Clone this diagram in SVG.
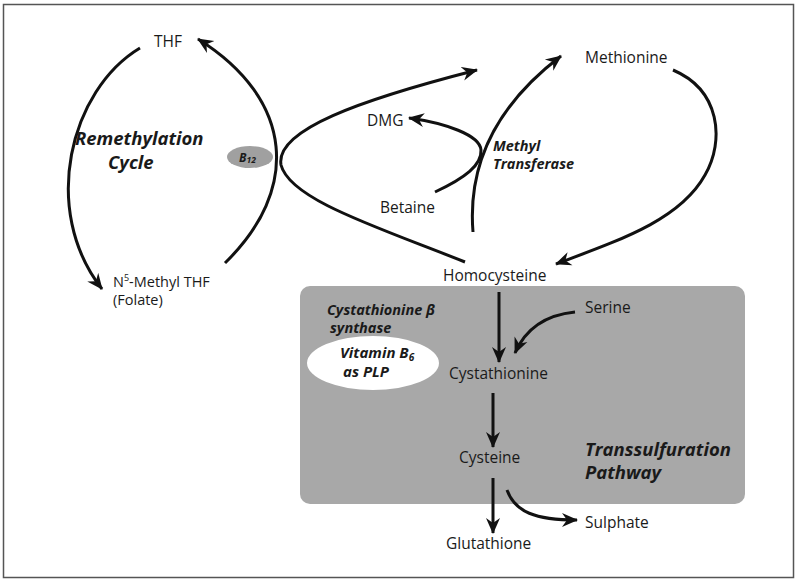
<svg xmlns="http://www.w3.org/2000/svg" width="800" height="585" viewBox="0 0 800 585">
<defs>
<marker id="ah" markerUnits="userSpaceOnUse" markerWidth="18" markerHeight="16" refX="15" refY="8" orient="auto">
<path d="M0,1 L16,8 L0,15 L5,8 z" fill="#111"/>
</marker>
</defs>
<style>
text{font-family:"Open Sans","Liberation Sans",sans-serif;fill:#1a1a1a;font-size:15.5px}
.b{font-weight:bold;font-style:italic;font-size:15px}
.b2{font-size:14.5px}
.big{font-size:18.5px}
.sm{font-size:14.5px}
.c{fill:none;stroke:#111;stroke-width:3;stroke-linecap:butt}
.a{marker-end:url(#ah)}
</style>
<rect x="3.5" y="4.5" width="790" height="573" fill="#fff" stroke="#555" stroke-width="1.5"/>
<g id="transsulfuration-box">
<rect x="300" y="286" width="445" height="218" rx="10" fill="#a8a8a8"/>
<text class="b big" x="585" y="456">Transsulfuration</text>
<text class="b big" x="585" y="479">Pathway</text>
</g>
<g id="connectors">
<path class="c a" d="M140,48 C70,90 40,210 102,289"/>
<path class="c a" d="M225,263 C300,190 295,100 198,39"/>
<path class="c a" d="M465,262 C380,228 290,200 281,165 C275,130 360,100 477,70"/>
<path class="c a" d="M435,192 C465,178 482,165 481,150 C480,135 445,123 409,118"/>
<path class="c a" d="M473,232 C468,170 490,110 561,56"/>
<path class="c a" d="M673,70 C720,90 725,140 705,175 C680,220 620,240 556,264"/>
<path class="c a" d="M499,292 L499,362"/>
<path class="c a" d="M575,312 C545,315 525,330 515,353"/>
<path class="c a" d="M493,393 L493,447"/>
<path class="c a" d="M493,478 L493,533"/>
<path class="c a" d="M507,490 C515,512 535,520 577,520"/>
</g>
<g id="thf"><text x="154" y="47">THF</text></g>
<g id="remethylation-label">
<text class="b big" x="75" y="145">Remethylation</text>
<text class="b big" x="108" y="169">Cycle</text>
</g>
<g id="b12">
<ellipse cx="250" cy="157" rx="23" ry="11" fill="#a0a0a0"/>
<text class="b" x="239" y="162" style="font-size:12px">B<tspan style="font-size:8.5px" dy="1">12</tspan></text>
</g>
<g id="n5-methyl-thf">
<text class="sm" x="113" y="287">N<tspan style="font-size:9px" dy="-6">5</tspan><tspan dy="6">-Methyl THF</tspan></text>
<text class="sm" x="113" y="305">(Folate)</text>
</g>
<g id="dmg"><text x="367" y="126">DMG</text></g>
<g id="betaine"><text x="380" y="213">Betaine</text></g>
<g id="methyl-transferase">
<text class="b b2" x="493" y="151">Methyl</text>
<text class="b b2" x="493" y="169">Transferase</text>
</g>
<g id="methionine"><text x="585" y="63">Methionine</text></g>
<g id="homocysteine"><text x="443" y="281">Homocysteine</text></g>
<g id="cbs">
<text class="b b2" x="327" y="315">Cystathionine β</text>
<text class="b b2" x="330" y="333">synthase</text>
</g>
<g id="vitamin-b6">
<ellipse cx="373" cy="363" rx="66" ry="27" fill="#fff"/>
<text class="b" x="340" y="358">Vitamin B<tspan style="font-size:10px" dy="3">6</tspan></text>
<text class="b" x="343" y="377">as PLP</text>
</g>
<g id="serine"><text x="585" y="313">Serine</text></g>
<g id="cystathionine"><text x="449" y="379">Cystathionine</text></g>
<g id="cysteine"><text x="459" y="463">Cysteine</text></g>
<g id="glutathione"><text x="446" y="549">Glutathione</text></g>
<g id="sulphate"><text x="585" y="528">Sulphate</text></g>
</svg>
